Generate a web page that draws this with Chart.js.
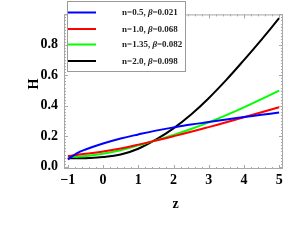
<!DOCTYPE html>
<html>
<head>
<meta charset="utf-8">
<script src="https://cdn.jsdelivr.net/npm/chart.js@4.4.0/dist/chart.umd.min.js"></script>
<style>
  html, body { margin: 0; padding: 0; background: #fff; }
  #wrap { width: 305px; height: 249px; }
</style>
</head>
<body>
<div id="wrap"><canvas id="c" width="305" height="249"></canvas></div>
<script>
// values
var zValues = [-1, -0.75, -0.5, 0, 0.5, 1, 1.5, 2, 2.5, 3, 3.5, 4, 4.5, 5];
var hBlue  = [0.048, 0.088, 0.113, 0.152, 0.185, 0.212, 0.237, 0.258, 0.277, 0.293, 0.310, 0.326, 0.341, 0.356];
var hRed   = [0.070, 0.077, 0.085, 0.100, 0.120, 0.145, 0.172, 0.200, 0.229, 0.260, 0.292, 0.325, 0.357, 0.390];
var hGreen = [0.064, 0.066, 0.070, 0.085, 0.108, 0.140, 0.173, 0.209, 0.248, 0.291, 0.339, 0.390, 0.444, 0.500];
var hBlack = [0.055, 0.055, 0.056, 0.063, 0.080, 0.118, 0.178, 0.252, 0.343, 0.450, 0.570, 0.700, 0.835, 0.975];

var seriesN    = ['n=0.5, ', 'n=1.0, ', 'n=1.35, ', 'n=2.0, '];
var seriesBeta = ['0.021', '0.068', '0.082', '0.098'];
var seriesColors = ['#0000ff', '#ff0000', '#00ff00', '#000000'];

var xTicks = [-1, 0, 1, 2, 3, 4, 5];
var yTicks = [0, 0.2, 0.4, 0.6, 0.8];

var FRAME = '#a8a8a8';
var SERIF = '"Liberation Serif", "Times New Roman", serif';

function points(vals) {
    return zValues.map(function(z, i){ return {x: z, y: vals[i]}; });
}

var allSeries = [hBlue, hRed, hGreen, hBlack];
var datasets = allSeries.map(function(vals, i){
    return {
        label: seriesN[i] + 'β=' + seriesBeta[i],
        data: points(vals),
        borderColor: seriesColors[i],
        borderWidth: 2,
        pointRadius: 0,
        fill: false,
        tension: 0.4
    };
});

//frame, inside ticks, axis titles and the legend box:
var framePlugin = {
    id: 'frame',
    afterDraw: function(chart) {
        var ctx = chart.ctx;
        var a = chart.chartArea;
        var xs = chart.scales.x, ys = chart.scales.y;
        ctx.save();
        ctx.strokeStyle = FRAME;
        ctx.lineWidth = 1;
        ctx.strokeRect(a.left + 0.5, a.top + 0.5, a.right - a.left - 1, a.bottom - a.top - 1);

        ctx.beginPath();
        //x ticks, bottom and top
        for (var v = -1; v <= 5.001; v += 0.2) {
            var px = Math.round(xs.getPixelForValue(v)) + 0.5;
            var major = Math.abs(v - Math.round(v)) < 1e-6;
            var len = major ? 4 : 2;
            ctx.moveTo(px, a.bottom); ctx.lineTo(px, a.bottom - len);
            ctx.moveTo(px, a.top); ctx.lineTo(px, a.top + len);
        }
        //y ticks, left and right
        for (var k = 0; k <= 50; k++) {
            var yv = k * 0.02;
            if (yv > 1.0) break;
            var py = Math.round(ys.getPixelForValue(yv)) + 0.5;
            var maj = (k % 10) === 0;
            var l2 = maj ? 4 : 2;
            ctx.moveTo(a.left, py); ctx.lineTo(a.left + l2, py);
            ctx.moveTo(a.right, py); ctx.lineTo(a.right - l2, py);
        }
        ctx.stroke();

        //axis titles
        ctx.fillStyle = '#000';
        ctx.font = 'bold 14px ' + SERIF;
        ctx.textAlign = 'center';
        ctx.textBaseline = 'middle';
        ctx.fillText('z', (a.left + a.right) / 2 + 2, 204);
        ctx.translate(34, 84);
        ctx.rotate(-Math.PI / 2);
        ctx.fillText('H', 0, 0);
        ctx.restore();

        //legend
        ctx.save();
        var bx = 67, by = 1, bw = 118, bh = 70;
        ctx.fillStyle = '#fff';
        ctx.fillRect(bx, by, bw, bh);
        ctx.strokeStyle = '#9a9a9a';
        ctx.lineWidth = 1;
        ctx.strokeRect(bx + 0.5, by + 0.5, bw, bh);
        var rows = [12.5, 29, 44.5, 61];
        ctx.textBaseline = 'middle';
        ctx.textAlign = 'left';
        for (var i = 0; i < rows.length; i++) {
            ctx.strokeStyle = seriesColors[i];
            ctx.lineWidth = 2;
            ctx.beginPath();
            ctx.moveTo(68, rows[i]); ctx.lineTo(96, rows[i]);
            ctx.stroke();
            ctx.fillStyle = '#222';
            var tx = 122;
            ctx.font = 'bold 9px ' + SERIF;
            ctx.fillText(seriesN[i], tx, rows[i] + 0.5);
            tx += ctx.measureText(seriesN[i]).width;
            ctx.font = 'italic bold 9px ' + SERIF;
            ctx.fillText('β', tx, rows[i] + 0.5);
            tx += ctx.measureText('β').width;
            ctx.font = 'bold 9px ' + SERIF;
            ctx.fillText('=' + seriesBeta[i], tx, rows[i] + 0.5);
        }
        ctx.restore();
    }
};

new Chart(document.getElementById('c'), {
    type: 'line',
    data: { datasets: datasets },
    options: {
        responsive: false,
        animation: false,
        layout: { padding: { left: 0, right: 22, top: 0, bottom: 0 } },
        plugins: {
            legend: { display: false },
            tooltip: { enabled: false }
        },
        scales: {
            x: {
                type: 'linear',
                min: -1.11,
                max: 5.11,
                afterBuildTicks: function(scale){
                    scale.ticks = xTicks.map(function(v){ return {value: v}; });
                },
                afterFit: function(scale){ scale.height = 80; },
                grid: { display: false, drawTicks: false },
                border: { display: false },
                ticks: {
                    padding: 3,
                    color: '#000',
                    maxRotation: 0,
                    font: { family: SERIF, size: 14, weight: 'bold' },
                    callback: function(v){ return v < 0 ? '\u2212' + Math.abs(v) : String(v); }
                }
            },
            y: {
                type: 'linear',
                min: -0.015,
                max: 1.0,
                afterBuildTicks: function(scale){
                    scale.ticks = yTicks.map(function(v){ return {value: v}; });
                },
                afterFit: function(scale){ scale.width = 64; },
                grid: { display: false, drawTicks: false },
                border: { display: false },
                ticks: {
                    padding: 6,
                    color: '#000',
                    font: { family: SERIF, size: 14, weight: 'bold' },
                    callback: function(v){ return v.toFixed(1); }
                }
            }
        }
    },
    plugins: [framePlugin]
});
</script>
</body>
</html>
